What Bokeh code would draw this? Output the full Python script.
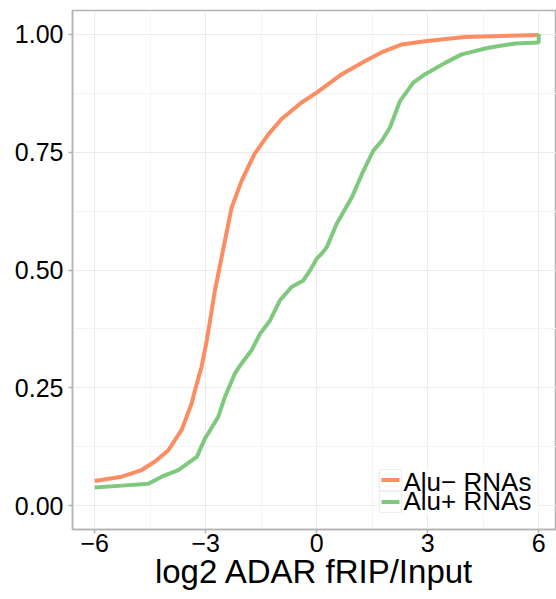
from bokeh.plotting import figure
from bokeh.models import Range1d, FixedTicker, BoxAnnotation, Label
from bokeh.embed import file_html
from bokeh.resources import INLINE

# ---- data ----
series_names = ["Alu\u2212 RNAs", "Alu+ RNAs"]
series_colors = ["#FC8D62", "#7FC97F"]

alu_neg_x = [-6.0, -5.27, -4.73, -4.37, -4.01, -3.65, -3.38, -3.29, -3.11, -2.97, -2.75,
             -2.48, -2.30, -2.03, -1.68, -1.30, -0.95, -0.41, 0.0, 0.68, 1.31, 1.80,
             2.30, 2.93, 4.0, 5.0, 6.0]
alu_neg_y = [0.053, 0.062, 0.076, 0.094, 0.118, 0.161, 0.217, 0.245, 0.295, 0.351, 0.457,
             0.562, 0.632, 0.689, 0.746, 0.788, 0.820, 0.855, 0.876, 0.915, 0.943, 0.963,
             0.978, 0.985, 0.994, 0.996, 0.998]

alu_pos_x = [-6.0, -5.27, -4.55, -4.19, -3.74, -3.24, -3.02, -2.93, -2.66, -2.48, -2.21,
             -2.03, -1.76, -1.53, -1.26, -0.99, -0.68, -0.36, -0.18, 0.0, 0.14, 0.27,
             0.54, 0.95, 1.22, 1.53, 1.76, 1.98, 2.25, 2.61, 2.93, 3.47, 3.92, 4.64,
             5.36, 6.0, 6.0]
alu_pos_y = [0.039, 0.043, 0.047, 0.062, 0.076, 0.104, 0.143, 0.154, 0.189, 0.231, 0.281,
             0.302, 0.330, 0.365, 0.393, 0.436, 0.464, 0.478, 0.499, 0.524, 0.535, 0.548,
             0.598, 0.654, 0.703, 0.753, 0.774, 0.802, 0.858, 0.897, 0.915, 0.939, 0.957,
             0.971, 0.980, 0.982, 1.0]

x_ticks = [-6, -3, 0, 3, 6]
x_tick_labels = ["\u22126", "\u22123", "0", "3", "6"]
x_minor = [-4.5, -1.5, 1.5, 4.5]
y_ticks = [0.0, 0.25, 0.5, 0.75, 1.0]
y_tick_labels = ["0.00", "0.25", "0.50", "0.75", "1.00"]
y_minor = [0.125, 0.375, 0.625, 0.875]
x_label = "log2 ADAR fRIP/Input"

FONT = "Liberation Sans"
BORDER = "#b3b3b3"

p = figure(frame_width=484, frame_height=519,
           min_border_left=72, min_border_right=0, min_border_top=10, min_border_bottom=0,
           x_range=Range1d(-6.6, 6.481), y_range=Range1d(-0.05, 1.05),
           output_backend="svg", toolbar_location=None)

p.background_fill_color = "white"
p.border_fill_color = "white"
p.outline_line_color = BORDER
p.outline_line_width = 1.5

# grids
p.xgrid.ticker = FixedTicker(ticks=x_ticks, minor_ticks=x_minor)
p.ygrid.ticker = FixedTicker(ticks=y_ticks, minor_ticks=y_minor)
for g in (p.xgrid, p.ygrid):
    g.grid_line_color = "#ebebeb"
    g.grid_line_width = 1
    g.minor_grid_line_color = "#f4f4f4"
    g.minor_grid_line_width = 1

# axes
p.xaxis.ticker = FixedTicker(ticks=x_ticks)
p.yaxis.ticker = FixedTicker(ticks=y_ticks)
p.xaxis.major_label_overrides = {t: l for t, l in zip(x_ticks, x_tick_labels)}
p.yaxis.major_label_overrides = {t: l for t, l in zip(y_ticks, y_tick_labels)}
for ax in (p.xaxis[0], p.yaxis[0]):
    ax.axis_line_color = BORDER
    ax.axis_line_width = 1.5
    ax.major_tick_line_color = BORDER
    ax.major_tick_line_width = 1.5
    ax.major_tick_out = 4
    ax.major_tick_in = 0
    ax.minor_tick_line_color = None
    ax.major_label_text_font = FONT
    ax.major_label_text_font_size = "25px"
    ax.major_label_text_color = "black"
p.xaxis.major_label_standoff = 0
p.yaxis.major_label_standoff = 5

p.xaxis.axis_label = x_label
p.xaxis.axis_label_text_font = FONT
p.xaxis.axis_label_text_font_size = "33px"
p.xaxis.axis_label_text_font_style = "normal"
p.xaxis.axis_label_text_color = "black"
p.xaxis.axis_label_standoff = -2

# lines
p.line(alu_neg_x, alu_neg_y, line_color=series_colors[0], line_width=4)
p.line(alu_pos_x, alu_pos_y, line_color=series_colors[1], line_width=4)

# legend (ggplot style, inside bottom-right), positions in screen px from frame bottom-left
def sbox(l, r, b, t, **kw):
    return BoxAnnotation(left=l, right=r, bottom=b, top=t,
                         left_units="screen", right_units="screen",
                         bottom_units="screen", top_units="screen", **kw)

p.add_layout(sbox(306, 466, 16, 60, fill_color="white", fill_alpha=1.0, line_color=None))
row_bottoms = [39, 17]
label_ys = [48, 29]
for name, color, rb, ly in zip(series_names, series_colors, row_bottoms, label_ys):
    p.add_layout(sbox(307, 329, rb, rb + 21, fill_color="white", fill_alpha=1.0,
                      line_color="#c8c8c8", line_width=1.2))
    p.add_layout(sbox(309, 327, rb + 8.5, rb + 12.5, fill_color=color, fill_alpha=1.0,
                      line_color=None))
    p.add_layout(Label(x=331, y=ly, x_units="screen", y_units="screen", text=name,
                       text_font=FONT, text_font_size="26px", text_color="black",
                       text_baseline="alphabetic", text_align="left"))

open("out.html", "w").write(file_html(p, INLINE))
